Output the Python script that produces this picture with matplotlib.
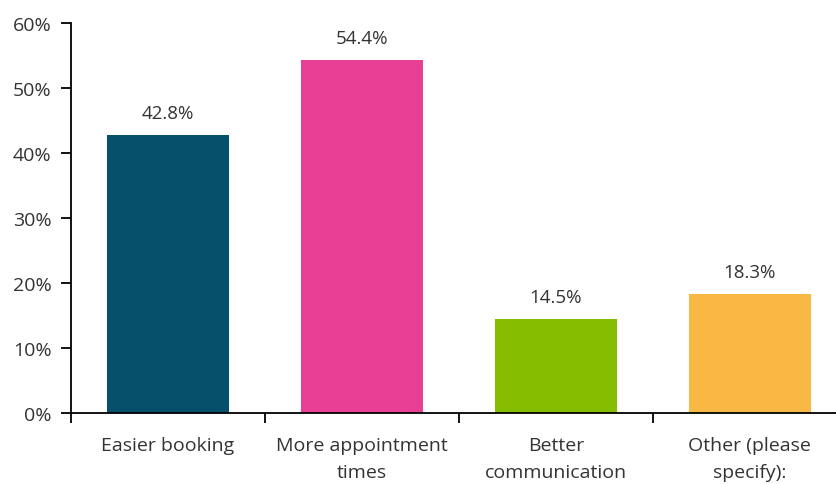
import matplotlib.pyplot as plt

plt.rcParams['font.family'] = ['Open Sans', 'DejaVu Sans']

# data
categories = ['Easier booking', 'More appointment\ntimes', 'Better\ncommunication', 'Other (please\nspecify):']
values = [42.8, 54.4, 14.5, 18.3]
colors = ['#06506b', '#e63f94', '#84bc00', '#f8b843']
yticks = [0, 10, 20, 30, 40, 50, 60]

fig = plt.figure(figsize=(8.37, 4.85), dpi=100)
ax = fig.add_axes([0.0848, 0.147, 0.927, 0.803])

x = range(len(categories))
bars = ax.bar(x, values, width=0.63, color=colors)

for b, v in zip(bars, values):
    ax.text(b.get_x() + b.get_width() / 2, v + 2.0, f'{v:.1f}%',
            ha='center', va='bottom', fontsize=13.5, color='#333333')

ax.set_xlim(-0.5, 3.5)
ax.set_ylim(0, 60)
ax.set_yticks(yticks)
ax.set_yticklabels([f'{t}%' for t in yticks])

# ticks on x axis sit between categories
ax.set_xticks([-0.5, 0.5, 1.5, 2.5, 3.5])
ax.set_xticklabels([])
ax.set_xticks(list(x), minor=True)
ax.set_xticklabels(categories, minor=True, fontsize=14, color='#333333', linespacing=1.65)
ax.tick_params(axis='x', which='minor', length=0, pad=17)
ax.tick_params(axis='x', which='major', length=7, width=1.3, direction='out')
ax.tick_params(axis='y', length=7, width=1.3, labelsize=14, labelcolor='#333333', pad=7)

for s in ['top', 'right']:
    ax.spines[s].set_visible(False)
for s in ['left', 'bottom']:
    ax.spines[s].set_linewidth(1.3)

fig.savefig('out.png', dpi=100)
